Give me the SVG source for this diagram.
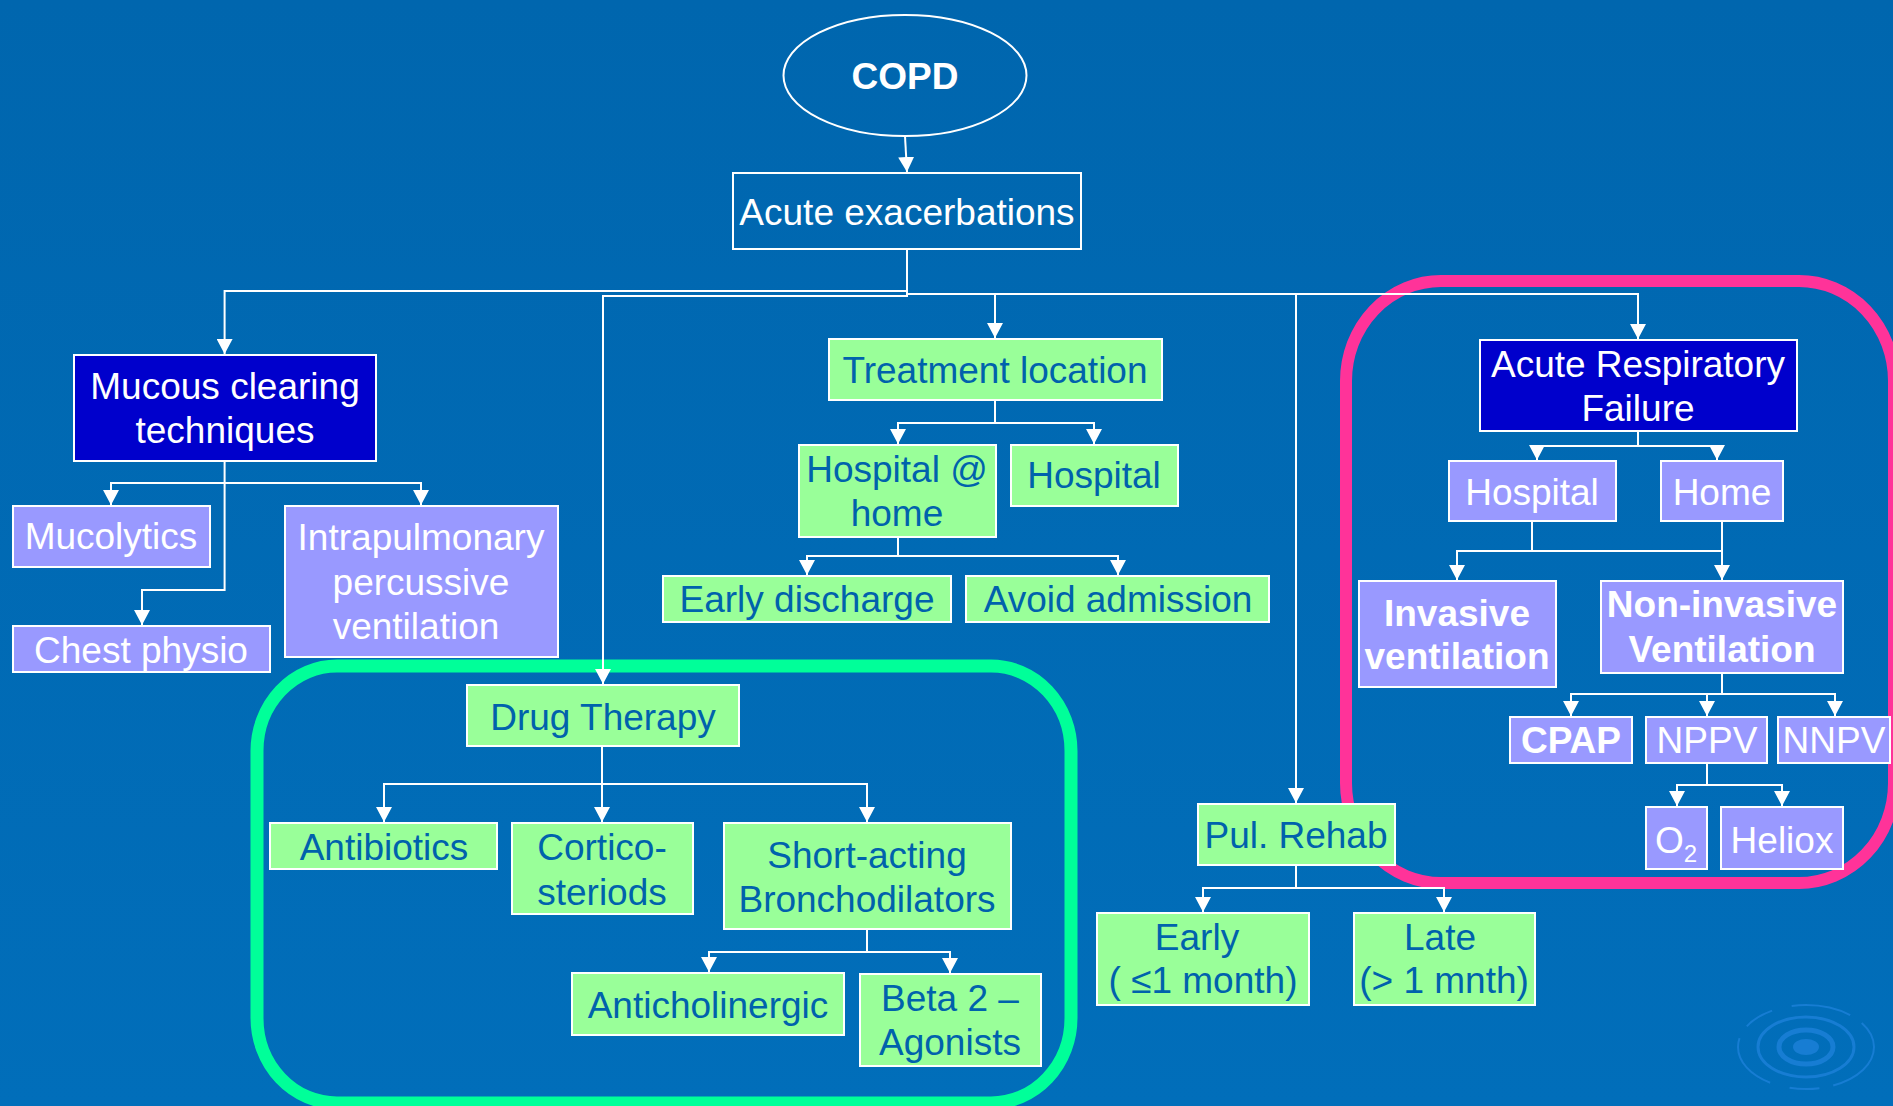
<svg xmlns="http://www.w3.org/2000/svg" width="1893" height="1106" viewBox="0 0 1893 1106">
<defs>
<marker id="ah" markerUnits="userSpaceOnUse" markerWidth="16" markerHeight="16" refX="15" refY="8" orient="auto">
<path d="M0,0 L15,8 L0,16 z" fill="#fff"/>
</marker>
<linearGradient id="bg" x1="0" y1="0" x2="0" y2="1">
<stop offset="0" stop-color="#0066AE"/>
<stop offset="1" stop-color="#016EBA"/>
</linearGradient>
</defs>
<style>
.ln{fill:none;stroke:#fff;stroke-width:2}
.ar{marker-end:url(#ah)}
.bx{stroke:#fff;stroke-width:2}
.g{fill:#99FF99}
.l{fill:#9999FF}
.d{fill:#0000CC}
.t{font-family:"Liberation Sans",Arial,sans-serif;font-size:37px;text-anchor:middle}
.w{fill:#fff}
.k{fill:#0062AC}
.b{font-weight:bold}
</style>
<rect x="0" y="0" width="1893" height="1106" fill="url(#bg)"/>

<g id="ripple" fill="none" stroke="#1B80D8" opacity="0.85">
<ellipse cx="1806" cy="1047" rx="13" ry="8" fill="#1B80D8" stroke="none"/>
<ellipse cx="1806" cy="1047" rx="27" ry="17" stroke-width="5"/>
<ellipse cx="1806" cy="1047" rx="48" ry="30" stroke-width="3"/>
<ellipse cx="1806" cy="1047" rx="68" ry="42" stroke-width="2" stroke-dasharray="60 14 30 20"/>
</g>

<g id="groups" fill="none">
<rect x="1346" y="281" width="548" height="602" rx="95" ry="100" stroke="#FF3399" stroke-width="12"/>
<rect x="257" y="666" width="814" height="437" rx="80" ry="85" stroke="#00FF99" stroke-width="13"/>
</g>

<g id="connectors">
<path class="ln ar" d="M905,136 L907,172"/>
<path class="ln ar" d="M907,249 V291 H224.6 V354"/>
<path class="ln ar" d="M907,291 V296 H603 V684"/>
<path class="ln ar" d="M907,294 H1638 V339"/>
<path class="ln ar" d="M995,294 V338"/>
<path class="ln ar" d="M1296,294 V803"/>
<path class="ln" d="M224.6,461 V590 H142"/>
<path class="ln ar" d="M142,589 V625"/>
<path class="ln ar" d="M224.6,483 H111 V505"/>
<path class="ln ar" d="M224.6,483 H421 V505"/>
<path class="ln ar" d="M995,400 V423 H898 V444"/>
<path class="ln ar" d="M995,423 H1094 V444"/>
<path class="ln ar" d="M898,537 V556 H807 V575"/>
<path class="ln ar" d="M898,556 H1118 V575"/>
<path class="ln ar" d="M1638,431 V446 H1537 V460"/>
<path class="ln ar" d="M1638,446 H1717 V460"/>
<path class="ln ar" d="M1532,521 V551 H1457 V580"/>
<path class="ln ar" d="M1722,521 V580"/>
<path class="ln" d="M1532,551 H1722"/>
<path class="ln ar" d="M1722,673 V694 H1571 V716"/>
<path class="ln ar" d="M1707,694 V716"/>
<path class="ln ar" d="M1722,694 H1835 V716"/>
<path class="ln ar" d="M1707,763 V785 H1677 V806"/>
<path class="ln ar" d="M1707,785 H1782 V806"/>
<path class="ln ar" d="M1296,865 V888 H1203 V912"/>
<path class="ln ar" d="M1296,888 H1444 V912"/>
<path class="ln ar" d="M602,746 V784 H384 V822"/>
<path class="ln ar" d="M602,784 V822"/>
<path class="ln ar" d="M602,784 H867 V822"/>
<path class="ln ar" d="M867,929 V952 H709 V972"/>
<path class="ln ar" d="M867,952 H950 V973"/>
</g>

<g id="copd">
<ellipse cx="905" cy="75.5" rx="121.5" ry="60.5" fill="none" stroke="#fff" stroke-width="2"/>
<text class="t w b" x="905" y="89">COPD</text>
</g>
<g id="acute-exacerbations">
<rect class="bx" x="733" y="173" width="348" height="76" fill="none"/>
<text class="t w" x="907" y="225">Acute exacerbations</text>
</g>

<g id="mucous-clearing">
<rect class="bx d" x="74" y="355" width="302" height="106"/>
<text class="t w" x="225" y="399">Mucous clearing</text>
<text class="t w" x="225" y="443">techniques</text>
</g>
<g id="mucolytics">
<rect class="bx l" x="13" y="506" width="197" height="61"/>
<text class="t w" x="111" y="549">Mucolytics</text>
</g>
<g id="intrapulmonary">
<rect class="bx l" x="285" y="506" width="273" height="151"/>
<text class="t w" x="421" y="550">Intrapulmonary</text>
<text class="t w" x="421" y="595">percussive</text>
<text class="t w" x="416" y="639">ventilation</text>
</g>
<g id="chest-physio">
<rect class="bx l" x="13" y="626" width="257" height="46"/>
<text class="t w" x="141" y="663">Chest physio</text>
</g>

<g id="treatment-location">
<rect class="bx g" x="829" y="339" width="333" height="61"/>
<text class="t k" x="995" y="383">Treatment location</text>
</g>
<g id="hospital-at-home">
<rect class="bx g" x="799" y="445" width="197" height="92"/>
<text class="t k" x="897" y="482">Hospital @</text>
<text class="t k" x="897" y="526">home</text>
</g>
<g id="hospital">
<rect class="bx g" x="1011" y="445" width="167" height="61"/>
<text class="t k" x="1094" y="488">Hospital</text>
</g>
<g id="early-discharge">
<rect class="bx g" x="663" y="576" width="288" height="46"/>
<text class="t k" x="807" y="612">Early discharge</text>
</g>
<g id="avoid-admission">
<rect class="bx g" x="966" y="576" width="303" height="46"/>
<text class="t k" x="1118" y="612">Avoid admission</text>
</g>

<g id="drug-therapy">
<rect class="bx g" x="467" y="685" width="272" height="61"/>
<text class="t k" x="603" y="730">Drug Therapy</text>
</g>
<g id="antibiotics">
<rect class="bx g" x="270" y="823" width="227" height="46"/>
<text class="t k" x="384" y="860">Antibiotics</text>
</g>
<g id="corticosteroids">
<rect class="bx g" x="512" y="823" width="181" height="91"/>
<text class="t k" x="602" y="860">Cortico-</text>
<text class="t k" x="602" y="905">steriods</text>
</g>
<g id="short-acting">
<rect class="bx g" x="724" y="823" width="287" height="106"/>
<text class="t k" x="867" y="868">Short-acting</text>
<text class="t k" x="867" y="912">Bronchodilators</text>
</g>
<g id="anticholinergic">
<rect class="bx g" x="572" y="973" width="272" height="62"/>
<text class="t k" x="708" y="1018">Anticholinergic</text>
</g>
<g id="beta2">
<rect class="bx g" x="860" y="974" width="181" height="92"/>
<text class="t k" x="950" y="1011">Beta 2 –</text>
<text class="t k" x="950" y="1055">Agonists</text>
</g>

<g id="pul-rehab">
<rect class="bx g" x="1198" y="804" width="197" height="61"/>
<text class="t k" x="1296" y="848">Pul. Rehab</text>
</g>
<g id="early">
<rect class="bx g" x="1097" y="913" width="212" height="92"/>
<text class="t k" x="1197" y="950">Early</text>
<text class="t k" x="1203" y="993">( ≤1 month)</text>
</g>
<g id="late">
<rect class="bx g" x="1354" y="913" width="181" height="92"/>
<text class="t k" x="1440" y="950">Late</text>
<text class="t k" x="1444" y="993">(&gt; 1 mnth)</text>
</g>

<g id="arf">
<rect class="bx d" x="1480" y="340" width="317" height="91"/>
<text class="t w" x="1638" y="377">Acute Respiratory</text>
<text class="t w" x="1638" y="421">Failure</text>
</g>
<g id="arf-hospital">
<rect class="bx l" x="1449" y="461" width="167" height="60"/>
<text class="t w" x="1532" y="505">Hospital</text>
</g>
<g id="arf-home">
<rect class="bx l" x="1661" y="461" width="122" height="60"/>
<text class="t w" x="1722" y="505">Home</text>
</g>
<g id="invasive">
<rect class="bx l" x="1359" y="581" width="197" height="106"/>
<text class="t w b" x="1457" y="626">Invasive</text>
<text class="t w b" x="1457" y="669">ventilation</text>
</g>
<g id="non-invasive">
<rect class="bx l" x="1601" y="581" width="242" height="92"/>
<text class="t w b" x="1722" y="617">Non-invasive</text>
<text class="t w b" x="1722" y="662">Ventilation</text>
</g>
<g id="cpap">
<rect class="bx l" x="1510" y="717" width="122" height="46"/>
<text class="t w b" x="1571" y="753">CPAP</text>
</g>
<g id="nppv">
<rect class="bx l" x="1646" y="717" width="121" height="46"/>
<text class="t w" x="1707" y="753">NPPV</text>
</g>
<g id="nnpv">
<rect class="bx l" x="1778" y="717" width="112" height="46"/>
<text class="t w" x="1834" y="753">NNPV</text>
</g>
<g id="o2">
<rect class="bx l" x="1646" y="807" width="61" height="62"/>
<text class="t w" x="1676" y="853">O<tspan font-size="24" dy="9">2</tspan></text>
</g>
<g id="heliox">
<rect class="bx l" x="1721" y="807" width="122" height="62"/>
<text class="t w" x="1782" y="853">Heliox</text>
</g>
</svg>
